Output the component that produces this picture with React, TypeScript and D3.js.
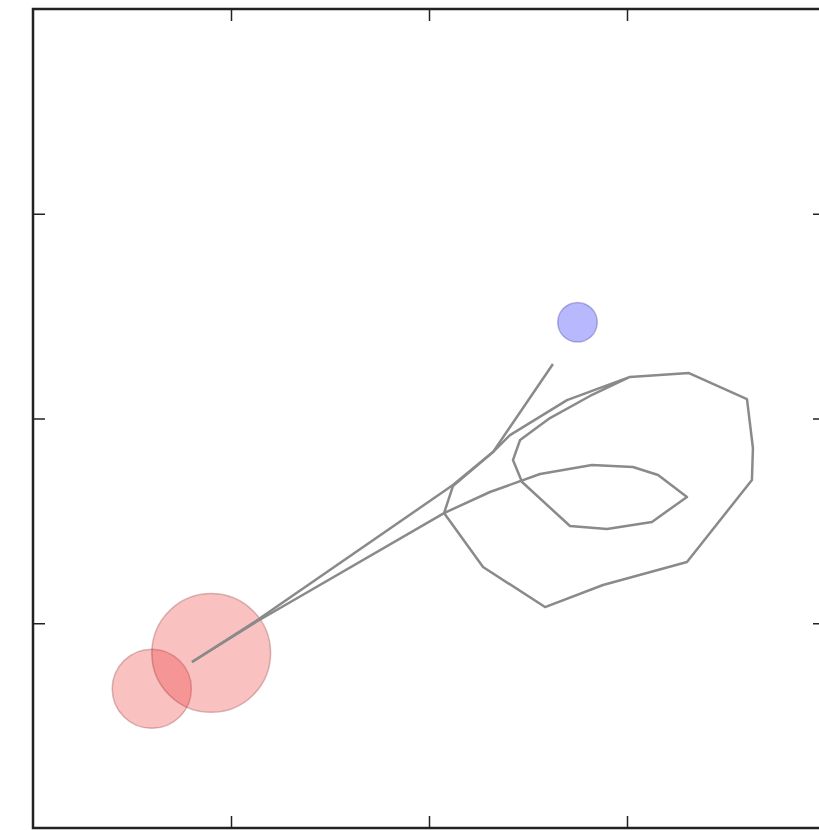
import React, { useEffect, useRef } from 'react';
import * as d3 from 'd3';

// circles: starting points (red) and target (blue), radius in x units
const circleX = [0.6, 0.9, 2.75];
const circleY = [0.68, 0.855, 2.47];
const circleR = [0.2, 0.3, 0.1];
const circleKind = ['start', 'start', 'target'];

// direct path towards the target
const pathAX = [0.803, 1.126, 2.121, 2.323, 2.626];
const pathAY = [0.811, 1.011, 1.675, 1.836, 2.266];

// looping path (inner loop, then outer loop)
const pathBX = [0.803, 1.126, 2.076, 2.308, 2.561, 2.823, 3.03, 3.157, 3.303, 3.126, 2.899, 2.712, 2.47, 2.424, 2.46, 2.611, 2.813, 3.015,
  3.313, 3.606, 3.636, 3.631, 3.303, 2.879, 2.586, 2.273, 2.076, 2.121, 2.323, 2.409, 2.697, 3.015];
const pathBY = [0.811, 1.006, 1.538, 1.641, 1.729, 1.773, 1.763, 1.724, 1.617, 1.495, 1.46, 1.475, 1.69, 1.797, 1.895, 2.002, 2.11, 2.203,
  2.222, 2.095, 1.856, 1.7, 1.299, 1.187, 1.079, 1.275, 1.538, 1.67, 1.836, 1.919, 2.09, 2.203];

const tickValues = [1, 2, 3];

const width = 819;
const height = 830;
const frame = { left: 33, top: 9, right: 825, bottom: 828 };

const App = () => {
  const topRef = useRef<SVGGElement>(null);
  const bottomRef = useRef<SVGGElement>(null);
  const leftRef = useRef<SVGGElement>(null);
  const rightRef = useRef<SVGGElement>(null);

  const x = d3.scaleLinear().domain([0, 4]).range([frame.left, frame.right]);
  const y = d3.scaleLinear().domain([0, 4]).range([frame.bottom, frame.top]);

  useEffect(() => {
    const style = (g: any) => {
      g.select('.domain').remove();
      g.selectAll('.tick line').attr('stroke', '#222').attr('stroke-width', 1.5);
    };
    // ticks point inwards on every side
    d3.select(topRef.current).call(d3.axisTop(x).tickValues(tickValues).tickSize(-12).tickFormat(() => '')).call(style);
    d3.select(bottomRef.current).call(d3.axisBottom(x).tickValues(tickValues).tickSize(-12).tickFormat(() => '')).call(style);
    d3.select(leftRef.current).call(d3.axisLeft(y).tickValues(tickValues).tickSize(-12).tickFormat(() => '')).call(style);
    d3.select(rightRef.current).call(d3.axisRight(y).tickValues(tickValues).tickSize(-12).tickFormat(() => '')).call(style);
  }, []);

  const line = d3.line<[number, number]>().x((d) => x(d[0])).y((d) => y(d[1]));
  const pathA = line(pathAX.map((v, i) => [v, pathAY[i]]));
  const pathB = line(pathBX.map((v, i) => [v, pathBY[i]]));

  return (
    <svg width={width} height={height} style={{ position: 'absolute', left: 0, top: 0, background: '#fff' }}>
      {circleX.map((cx, i) => (
        <circle
          key={i}
          cx={x(cx)}
          cy={y(circleY[i])}
          r={x(circleR[i]) - x(0)}
          fill={circleKind[i] === 'start' ? '#f03232' : '#0000ff'}
          fillOpacity={circleKind[i] === 'start' ? 0.3 : 0.28}
          stroke={circleKind[i] === 'start' ? '#700000' : '#000070'}
          strokeOpacity={0.25}
          strokeWidth={1.5}
        />
      ))}
      <path d={pathA ?? ''} fill="none" stroke="#8a8a8a" strokeWidth={2.5} strokeLinejoin="round" />
      <path d={pathB ?? ''} fill="none" stroke="#8a8a8a" strokeWidth={2.5} strokeLinejoin="round" />
      <g ref={topRef} transform={`translate(0,${frame.top})`} />
      <g ref={bottomRef} transform={`translate(0,${frame.bottom})`} />
      <g ref={leftRef} transform={`translate(${frame.left},0)`} />
      <g ref={rightRef} transform={`translate(${frame.right},0)`} />
      <rect
        x={frame.left}
        y={frame.top}
        width={frame.right - frame.left}
        height={frame.bottom - frame.top}
        fill="none"
        stroke="#222"
        strokeWidth={2.5}
      />
    </svg>
  );
};

export default App;
